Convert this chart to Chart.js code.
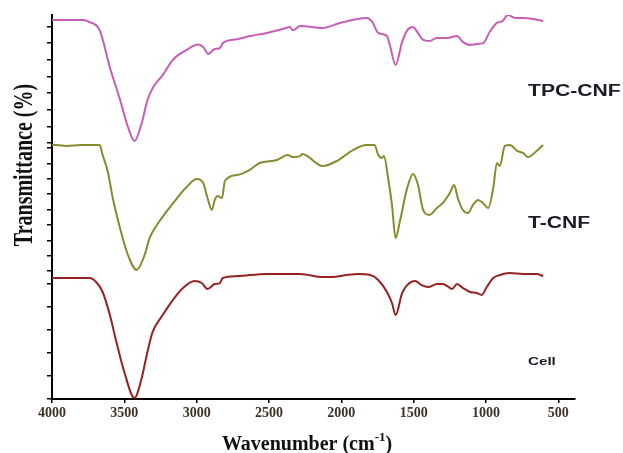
<!DOCTYPE html>
<html>
<head>
<meta charset="utf-8">
<script src="https://cdn.jsdelivr.net/npm/chart.js@4.4.0/dist/chart.umd.min.js"></script>
<style>
  html, body { margin: 0; padding: 0; background: #fff; }
  #wrap { width: 623px; height: 453px; }
</style>
</head>
<body>
<div id="wrap"><canvas id="ftir"></canvas></div>
<script>
// FTIR spectra: wavenumber (cm-1) and transmittance (arbitrary %, one panel each)
const tpcWn = [4000, 3790, 3740, 3670, 3600, 3530, 3475, 3430, 3380, 3340, 3300, 3235, 3165, 3070, 2990, 2955, 2920, 2875, 2840, 2820, 2720, 2630, 2515, 2405, 2355, 2335, 2285, 2130, 2010, 1890, 1825, 1790, 1745, 1685, 1665, 1625, 1580, 1545, 1505, 1475, 1435, 1390, 1340, 1270, 1200, 1160, 1110, 1065, 1020, 975, 925, 885, 850, 800, 745, 675, 605];
const tpcT = [96, 96, 94.5, 88, 59, 34, 12.5, 1.5, 15.6, 33.6, 43.8, 53, 65, 72.7, 77, 75, 69.5, 73.4, 74, 78, 81, 83.6, 86, 89, 90.6, 88, 91.4, 89.8, 93.8, 96.9, 97.7, 95.3, 86, 83.6, 76.6, 61, 79, 88, 90.6, 86.7, 80.5, 79.7, 82, 82, 83.6, 79, 76.6, 77.3, 78, 86.7, 93.8, 95.3, 100, 97.7, 97.7, 96.9, 95.3];

const tcnfWn = [4000, 3970, 3900, 3800, 3670, 3650, 3615, 3580, 3530, 3475, 3415, 3360, 3325, 3275, 3205, 3135, 3070, 3000, 2955, 2925, 2895, 2875, 2855, 2825, 2805, 2720, 2635, 2565, 2445, 2370, 2335, 2285, 2270, 2130, 2030, 1920, 1825, 1770, 1745, 1720, 1705, 1680, 1650, 1625, 1595, 1545, 1505, 1470, 1435, 1390, 1340, 1300, 1250, 1220, 1195, 1160, 1125, 1090, 1055, 1020, 985, 950, 925, 905, 870, 835, 785, 745, 710, 650, 605];
const tcnfT = [98.4, 98.4, 97.7, 98.4, 98.4, 90.6, 78, 57, 33.6, 12.5, 0.8, 12.5, 25.8, 36, 46.9, 57, 65.6, 71.9, 68.8, 57, 47.7, 55.5, 58.6, 57, 70.3, 75, 78.9, 84.4, 86.7, 90.6, 89, 89.8, 91.4, 82, 86, 94.5, 98.4, 98.4, 90.6, 88.3, 89.8, 75, 51.6, 25.8, 39, 64.8, 75.8, 67.2, 47.7, 43.8, 49.2, 53, 61, 67.2, 57, 47.7, 45.3, 51.6, 55.5, 53, 49.2, 64.8, 84.4, 82, 97.7, 98.4, 93.8, 92.2, 89, 93.8, 98.4];

const cellWn = [4000, 3790, 3740, 3695, 3650, 3600, 3555, 3500, 3430, 3380, 3345, 3305, 3235, 3165, 3095, 3015, 2965, 2925, 2875, 2840, 2820, 2720, 2515, 2355, 2285, 2130, 2080, 1890, 1800, 1745, 1685, 1650, 1625, 1580, 1545, 1490, 1445, 1400, 1340, 1300, 1270, 1235, 1200, 1160, 1110, 1065, 1030, 995, 950, 905, 835, 745, 650, 605];
const cellT = [94.5, 94.5, 94.5, 91.4, 83.6, 65.6, 44.5, 21, 0.8, 16.4, 34.4, 52.3, 65.6, 77.3, 86.7, 92.2, 90.6, 85.9, 89.8, 90.6, 94.5, 96, 97.7, 97.7, 97.7, 95.3, 95.3, 97.7, 96.9, 93, 83.6, 75, 65.6, 82.8, 89, 92.2, 89, 87.5, 89.8, 89.8, 88.3, 85.9, 89.8, 86.7, 83.6, 82.8, 81.3, 87.5, 94.5, 96.9, 98.4, 97.7, 97.7, 96];

const xTicks = [4000, 3500, 3000, 2500, 2000, 1500, 1000, 500];
const seriesNames = ['TPC-CNF', 'T-CNF', 'Cell'];

const toPoints = (wn, t) => wn.map((x, i) => ({ x: x, y: t[i] }));

// one unlabelled y panel per spectrum, stacked on the left
function panelAxis(step) {
    return {
        type: 'linear',
        position: 'left',
        stack: 'ftir',
        stackWeight: 1,
        min: 0,
        max: 100,
        afterFit: (scale) => { scale.width = 52; },
        ticks: { display: false, stepSize: step, includeBounds: false },
        grid: { drawOnChartArea: false, drawTicks: true, tickLength: 5, color: '#000', lineWidth: 1.5 },
        border: { color: '#000', width: 2 }
    };
}

// titles and curve names
const annotations = {
    id: 'annotations',
    afterDraw(chart) {
        const { ctx, scales } = chart;
        ctx.save();
        ctx.fillStyle = '#111';

        // y title, rotated
        ctx.save();
        ctx.translate(32, 165);
        ctx.rotate(-Math.PI / 2);
        ctx.scale(1, 1.35);
        ctx.font = 'bold 20px "Liberation Serif"';
        ctx.textAlign = 'center';
        ctx.textBaseline = 'alphabetic';
        ctx.fillText('Transmittance (%)', 0, 0);
        ctx.restore();

        // x title with superscript
        ctx.font = 'bold 20px "Liberation Serif"';
        ctx.textBaseline = 'alphabetic';
        ctx.textAlign = 'left';
        const a = 'Wavenumber (cm', sup = '-1', b = ')';
        const wa = ctx.measureText(a).width;
        const wb = ctx.measureText(b).width;
        ctx.font = 'bold 13px "Liberation Serif"';
        const ws = ctx.measureText(sup).width;
        let x0 = 307 - (wa + ws + wb) / 2;
        ctx.font = 'bold 20px "Liberation Serif"';
        ctx.fillText(a, x0, 450);
        ctx.font = 'bold 13px "Liberation Serif"';
        ctx.fillText(sup, x0 + wa, 441);
        ctx.font = 'bold 20px "Liberation Serif"';
        ctx.fillText(b, x0 + wa + ws, 450);

        // curve names, stretched sans like the original
        const spots = [
            { axis: 'yTop', wn: 710, t: 40, size: 16 },
            { axis: 'yMid', wn: 710, t: 37, size: 16 },
            { axis: 'yBot', wn: 710, t: 29, size: 11.5 }
        ];
        ctx.fillStyle = '#1c1c28';
        ctx.textBaseline = 'middle';
        spots.forEach((s, i) => {
            const px = scales.x.getPixelForValue(s.wn);
            const py = scales[s.axis].getPixelForValue(s.t);
            ctx.save();
            ctx.translate(px, py);
            ctx.scale(1.32, 1);
            ctx.font = 'bold ' + s.size + 'px "Liberation Sans"';
            ctx.fillText(seriesNames[i], 0, 0);
            ctx.restore();
        });
        ctx.restore();
    }
};

const ctx = document.getElementById('ftir');
new Chart(ctx, {
    type: 'line',
    data: {
        datasets: [{
            label: seriesNames[0],
            data: toPoints(tpcWn, tpcT),
            yAxisID: 'yTop',
            borderColor: '#c85cb7',
            borderWidth: 2,
            pointRadius: 0,
            cubicInterpolationMode: 'monotone',
            fill: false
        }, {
            label: seriesNames[1],
            data: toPoints(tcnfWn, tcnfT),
            yAxisID: 'yMid',
            borderColor: '#878a2e',
            borderWidth: 2,
            pointRadius: 0,
            cubicInterpolationMode: 'monotone',
            fill: false
        }, {
            label: seriesNames[2],
            data: toPoints(cellWn, cellT),
            yAxisID: 'yBot',
            borderColor: '#962222',
            borderWidth: 2,
            pointRadius: 0,
            cubicInterpolationMode: 'monotone',
            fill: false
        }]
    },
    options: {
        responsive: true,
        maintainAspectRatio: false,
        animation: false,
        layout: { padding: { top: 15, right: 48, left: 0, bottom: 0 } },
        plugins: {
            legend: { display: false },
            tooltip: { enabled: false }
        },
        scales: {
            x: {
                type: 'linear',
                reverse: true,
                min: 385,
                max: 4000,
                afterBuildTicks: (scale) => { scale.ticks = xTicks.map(v => ({ value: v })); },
                afterFit: (scale) => { scale.height = 54; },
                grid: { drawOnChartArea: false, drawTicks: true, tickLength: 4, color: '#000', lineWidth: 1.5 },
                border: { color: '#000', width: 2 },
                ticks: {
                    autoSkip: false,
                    maxRotation: 0,
                    padding: 2,
                    color: '#3b3326',
                    font: { family: 'Liberation Serif', weight: 'bold', size: 14 },
                    callback: (value) => String(value)
                }
            },
            // the stack is laid out bottom-up, so the bottom panel comes first
            yBot: panelAxis(18),
            yMid: panelAxis(12),
            yTop: panelAxis(13)
        }
    },
    plugins: [annotations]
});
</script>
</body>
</html>
